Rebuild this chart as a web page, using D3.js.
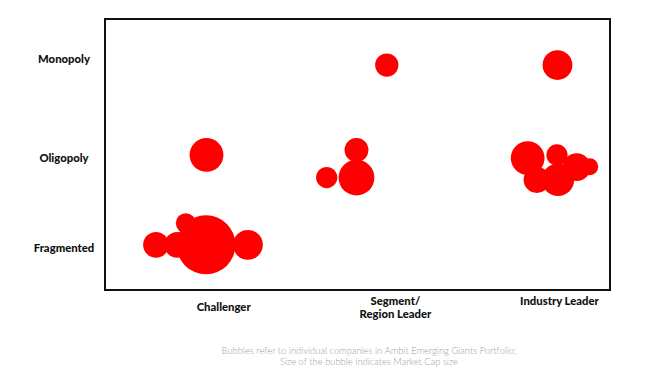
<!DOCTYPE html>
<html>
<head>
<meta charset="utf-8">
<script src="https://cdn.jsdelivr.net/npm/d3@7/dist/d3.min.js"></script>
<style>
  html, body { margin: 0; padding: 0; background: #fff; }
  svg { display: block; }
  .lbl { font-family: Lato, "Open Sans", sans-serif; font-weight: 900; font-size: 11.3px; fill: #111; }
  .cap { font-family: Lato, "Open Sans", sans-serif; font-weight: 300; font-size: 9.4px; fill: #a0a0a0; }
</style>
</head>
<body>
<svg id="chart" width="647" height="378"></svg>
<script>
// ---- Data ----
const xCategories = ["Challenger", "Segment/\nRegion Leader", "Industry Leader"];
const xCategoryPos = [2.35, 5.75, 9.0];
const yCategories = ["Fragmented", "Oligopoly", "Monopoly"];
const yCategoryPos = [0.93, 2.92, 5.11];

// bubbles: position (x, y in chart units) and market cap (relative)
const bubbleX   = [2.01, 2.0, 1.01, 1.43, 2.83, 1.6,  5.58, 4.98, 4.98, 4.39,  8.96, 8.37, 8.95, 8.55, 8.97, 9.34, 9.6];
const bubbleY   = [2.99, 1.0, 1.0,  1.0,  1.0,  1.48, 4.98, 3.10, 2.49, 2.49,  4.98, 2.92, 2.99, 2.44, 2.44, 2.72, 2.73];
const marketCap = [28.9, 88,  16.9, 16.9, 22.5, 10,   13.7, 14.4, 32.4, 11.4,  22.5, 28.9, 11.4, 17.5, 26.5, 19.5, 7.2];

const captionLines = [
  "Bubbles refer to individual  companies in Ambit Emerging Giants Portfolio;",
  "Size of the bubble indicates Market Cap size"
];

// ---- Layout ----
const svg = d3.select("#chart");
const plot = { left: 105, top: 19, right: 610, bottom: 290 };

const x = d3.scaleLinear().domain([0, 10]).range([plot.left, plot.right]);
const y = d3.scaleLinear().domain([0, 6]).range([plot.bottom, plot.top]);
const r = d3.scaleSqrt().domain([0, 88]).range([0, 29.5]);

// bubbles
const bubbles = bubbleX.map((v, i) => ({ x: v, y: bubbleY[i], cap: marketCap[i] }));
svg.append("g").selectAll("circle")
  .data(bubbles)
  .join("circle")
  .attr("cx", d => x(d.x))
  .attr("cy", d => y(d.y))
  .attr("r", d => r(d.cap))
  .attr("fill", "#ff0000");

// frame
svg.append("rect")
  .attr("x", plot.left)
  .attr("y", plot.top)
  .attr("width", plot.right - plot.left)
  .attr("height", plot.bottom - plot.top)
  .attr("fill", "none")
  .attr("stroke", "#111")
  .attr("stroke-width", 2);

// x category labels
const xl = svg.append("g").selectAll("text")
  .data(xCategories)
  .join("text")
  .attr("class", "lbl")
  .attr("text-anchor", "middle")
  .attr("x", (d, i) => x(xCategoryPos[i]));
xl.each(function(d) {
  const lines = d.split("\n");
  const t = d3.select(this);
  const y0 = lines.length > 1 ? 305 : (d === "Challenger" ? 311 : 305);
  lines.forEach((ln, j) => {
    t.append("tspan")
      .attr("x", t.attr("x"))
      .attr("y", y0 + j * 13)
      .text(ln);
  });
});

// y category labels
svg.append("g").selectAll("text")
  .data(yCategories)
  .join("text")
  .attr("class", "lbl")
  .attr("text-anchor", "middle")
  .attr("x", 64)
  .attr("y", (d, i) => y(yCategoryPos[i]))
  .attr("dy", "0.35em")
  .text(d => d);

// caption
svg.append("g").selectAll("text")
  .data(captionLines)
  .join("text")
  .attr("class", "cap")
  .attr("text-anchor", "middle")
  .attr("x", 369)
  .attr("y", (d, i) => 354 + i * 10.5)
  .text(d => d);
</script>
</body>
</html>
